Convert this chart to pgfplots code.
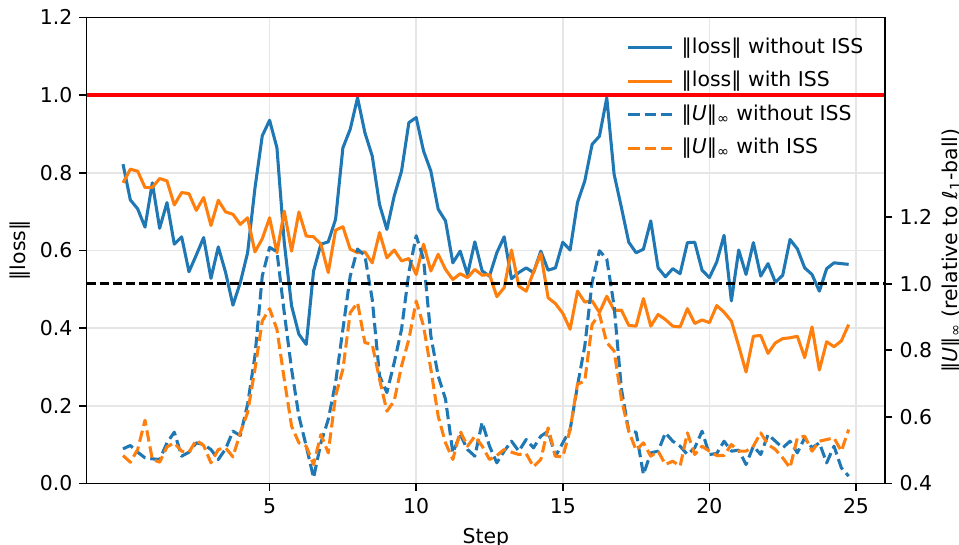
\documentclass[border=0pt]{standalone}
\usepackage{fontspec}
\setmainfont{DejaVu Sans}
\usepackage{pgfplots}
\usepackage{pgfplotstable}
\pgfplotsset{compat=1.18}

\definecolor{tabblue}{HTML}{1F77B4}
\definecolor{taborange}{HTML}{FF7F0E}
\definecolor{gridgray}{HTML}{E6E6E6}

% ||loss||: a = without ISS, b = with ISS
\pgfplotstableread{
x a b
0.00 0.822 0.774
0.25 0.730 0.809
0.50 0.707 0.804
0.75 0.660 0.762
1.00 0.774 0.762
1.25 0.657 0.785
1.50 0.723 0.779
1.75 0.616 0.717
2.00 0.635 0.749
2.25 0.545 0.746
2.50 0.588 0.703
2.75 0.633 0.736
3.00 0.528 0.664
3.25 0.609 0.729
3.50 0.543 0.699
3.75 0.459 0.693
4.00 0.517 0.667
4.25 0.594 0.684
4.50 0.760 0.596
4.75 0.895 0.630
5.00 0.935 0.684
5.25 0.864 0.594
5.50 0.620 0.701
5.75 0.457 0.598
6.00 0.384 0.699
6.25 0.358 0.637
6.50 0.547 0.635
6.75 0.616 0.616
7.00 0.622 0.543
7.25 0.680 0.652
7.50 0.864 0.661
7.75 0.912 0.603
8.00 0.993 0.594
8.25 0.903 0.596
8.50 0.843 0.568
8.75 0.718 0.646
9.00 0.654 0.581
9.25 0.740 0.601
9.50 0.804 0.573
9.75 0.929 0.579
10.00 0.942 0.538
10.25 0.856 0.616
10.50 0.804 0.547
10.75 0.706 0.590
11.00 0.676 0.551
11.25 0.568 0.525
11.50 0.598 0.540
11.75 0.538 0.530
12.00 0.622 0.551
12.25 0.547 0.536
12.50 0.534 0.538
12.75 0.594 0.481
13.00 0.635 0.504
13.25 0.527 0.601
13.50 0.543 0.508
13.75 0.555 0.495
14.00 0.543 0.544
14.25 0.598 0.592
14.50 0.549 0.478
14.75 0.555 0.463
15.00 0.621 0.438
15.25 0.601 0.397
15.50 0.723 0.495
15.75 0.779 0.467
16.00 0.873 0.470
16.25 0.894 0.440
16.50 0.993 0.482
16.75 0.796 0.446
17.00 0.710 0.446
17.25 0.621 0.407
17.50 0.594 0.405
17.75 0.603 0.476
18.00 0.676 0.405
18.25 0.555 0.435
18.50 0.532 0.422
18.75 0.553 0.405
19.00 0.540 0.403
19.25 0.620 0.450
19.50 0.621 0.412
19.75 0.549 0.421
20.00 0.530 0.414
20.25 0.570 0.458
20.50 0.639 0.441
20.75 0.470 0.418
21.00 0.601 0.354
21.25 0.538 0.287
21.50 0.620 0.379
21.75 0.534 0.381
22.00 0.566 0.335
22.25 0.518 0.362
22.50 0.536 0.373
22.75 0.628 0.375
23.00 0.604 0.379
23.25 0.555 0.324
23.50 0.538 0.403
23.75 0.495 0.292
24.00 0.553 0.365
24.25 0.568 0.352
24.50 0.566 0.367
24.75 0.564 0.409
}\losstab

% ||U||_inf relative to l1-ball: c = without ISS, d = with ISS
\pgfplotstableread{
x c d
0.00 0.504 0.484
0.25 0.514 0.464
0.50 0.494 0.502
0.75 0.477 0.590
1.00 0.474 0.472
1.25 0.472 0.464
1.50 0.522 0.510
1.75 0.554 0.522
2.00 0.482 0.497
2.25 0.494 0.494
2.50 0.522 0.530
2.75 0.517 0.514
3.00 0.502 0.462
3.25 0.472 0.502
3.50 0.504 0.507
3.75 0.557 0.480
4.00 0.544 0.552
4.25 0.638 0.613
4.50 0.783 0.743
4.75 1.023 0.888
5.00 1.109 0.925
5.25 1.096 0.863
5.50 0.913 0.713
5.75 0.743 0.572
6.00 0.602 0.522
6.25 0.512 0.512
6.50 0.417 0.457
6.75 0.522 0.547
7.00 0.592 0.492
7.25 0.703 0.663
7.50 0.863 0.743
7.75 1.023 0.913
8.00 1.104 0.943
8.25 1.084 0.823
8.50 0.953 0.818
8.75 0.723 0.713
9.00 0.673 0.617
9.25 0.763 0.648
9.50 0.863 0.753
9.75 1.034 0.833
10.00 1.144 0.948
10.25 1.074 0.873
10.50 0.843 0.743
10.75 0.723 0.602
11.00 0.653 0.522
11.25 0.492 0.472
11.50 0.547 0.557
11.75 0.502 0.512
12.00 0.482 0.542
12.25 0.584 0.512
12.50 0.512 0.472
12.75 0.462 0.484
13.00 0.497 0.502
13.25 0.527 0.494
13.50 0.497 0.487
13.75 0.532 0.490
14.00 0.507 0.450
14.25 0.542 0.472
14.50 0.557 0.567
14.75 0.482 0.482
15.00 0.522 0.480
15.25 0.562 0.562
15.50 0.693 0.698
15.75 0.813 0.708
16.00 1.004 0.878
16.25 1.099 0.908
16.50 1.074 0.823
16.75 0.933 0.798
17.00 0.683 0.653
17.25 0.557 0.557
17.50 0.554 0.500
17.75 0.427 0.522
18.00 0.492 0.482
18.25 0.497 0.497
18.50 0.552 0.457
18.75 0.527 0.467
19.00 0.512 0.452
19.25 0.487 0.552
19.50 0.507 0.487
19.75 0.557 0.512
20.00 0.487 0.497
20.25 0.490 0.484
20.50 0.527 0.484
20.75 0.497 0.517
21.00 0.500 0.497
21.25 0.457 0.497
21.50 0.512 0.512
21.75 0.487 0.552
22.00 0.547 0.517
22.25 0.527 0.502
22.50 0.507 0.477
22.75 0.527 0.447
23.00 0.492 0.537
23.25 0.537 0.542
23.50 0.507 0.497
23.75 0.522 0.527
24.00 0.462 0.532
24.25 0.512 0.537
24.50 0.447 0.497
24.75 0.422 0.562
}\utab

\pgfplotsset{
  base/.style={
    width=422pt, height=246.4pt, scale only axis,
    at={(0,0)}, anchor=south west,
    xmin=-1.24, xmax=25.99,
    % ticks drawn outward, labels placed by hand
    tick align=inside, major tick length=-3.78pt,
    tick style={black, line width=0.86pt},
    axis line style={line width=0.86pt},
    tick label style={font=\fontsize{10.8}{13}\selectfont, inner sep=0pt},
    label style={font=\fontsize{10.8}{13}\selectfont, inner sep=0pt},
    /pgf/number format/assume math mode=true,
    yticklabel style={/pgf/number format/fixed, /pgf/number format/fixed zerofill,
      /pgf/number format/precision=1},
  },
}

\begin{document}
\begin{tikzpicture}
\useasboundingbox (-45.8pt,-32.1pt) rectangle (461.1pt,255.55pt);
\begin{axis}[
  base,
  ymin=0, ymax=1.2,
  ytick={0,0.2,0.4,0.6,0.8,1.0,1.2},
  xtick={5,10,15,20,25},
  xtick pos=bottom, ytick pos=left,
  yticklabel style={anchor=east, xshift=-7.4pt},
  xticklabel style={anchor=north, yshift=-7.9pt},
  grid=major, grid style={gridgray, line width=0.86pt},
  xlabel={Step}, ylabel={‖loss‖},
  xlabel style={at={(axis description cs:0.5,0)}, anchor=north, yshift=-23.3pt},
  ylabel style={at={(axis description cs:-0.0834,0.5)}, anchor=center},
]
\addplot[tabblue, line width=1.62pt, line join=round] table[x=x, y=a] {\losstab};
\addplot[taborange, line width=1.62pt, line join=round] table[x=x, y=b] {\losstab};
\addplot[red, line width=2.16pt] coordinates {(-1.24,1) (25.99,1)};
\end{axis}

\begin{axis}[
  base,
  ymin=0.4, ymax=1.8,
  ytick={0.4,0.6,0.8,1.0,1.2},
  axis x line=none, axis y line*=right,
  yticklabel style={anchor=west, xshift=7.5pt},
  ylabel={‖\textit{U}‖\textsubscript{∞} (relative to \textit{ℓ}\textsubscript{1}-ball)},
  ylabel style={at={(axis description cs:1.0834,0.5)}, anchor=center},
  legend cell align=left,
  legend image code/.code={\draw[#1] (0pt,0pt) -- (22.9pt,0pt); \path (27.4pt,0pt);},
  legend style={at={(axis description cs:0.6765,0.9562)}, anchor=north west,
    inner sep=0pt, outer sep=0pt, draw=none, fill=none, row sep=6.9pt,
    font=\fontsize{10.8}{13}\selectfont,
    nodes={inner sep=0pt, text height=8.1pt, text depth=2.7pt}},
]
\addlegendimage{tabblue, line width=1.62pt}
\addlegendentry{‖loss‖ without ISS}
\addlegendimage{taborange, line width=1.62pt}
\addlegendentry{‖loss‖ with ISS}
\addplot[tabblue, line width=1.62pt, line join=round, dash pattern=on 6pt off 2.6pt]
  table[x=x, y=c] {\utab};
\addlegendentry{‖\textit{U}‖\textsubscript{∞} without ISS}
\addplot[taborange, line width=1.62pt, line join=round, dash pattern=on 6pt off 2.6pt]
  table[x=x, y=d] {\utab};
\addlegendentry{‖\textit{U}‖\textsubscript{∞} with ISS}
\addplot[black, line width=1.3pt, dash pattern=on 4.8pt off 2.1pt, forget plot]
  coordinates {(-1.24,1) (25.99,1)};
\end{axis}
\end{tikzpicture}
\end{document}
